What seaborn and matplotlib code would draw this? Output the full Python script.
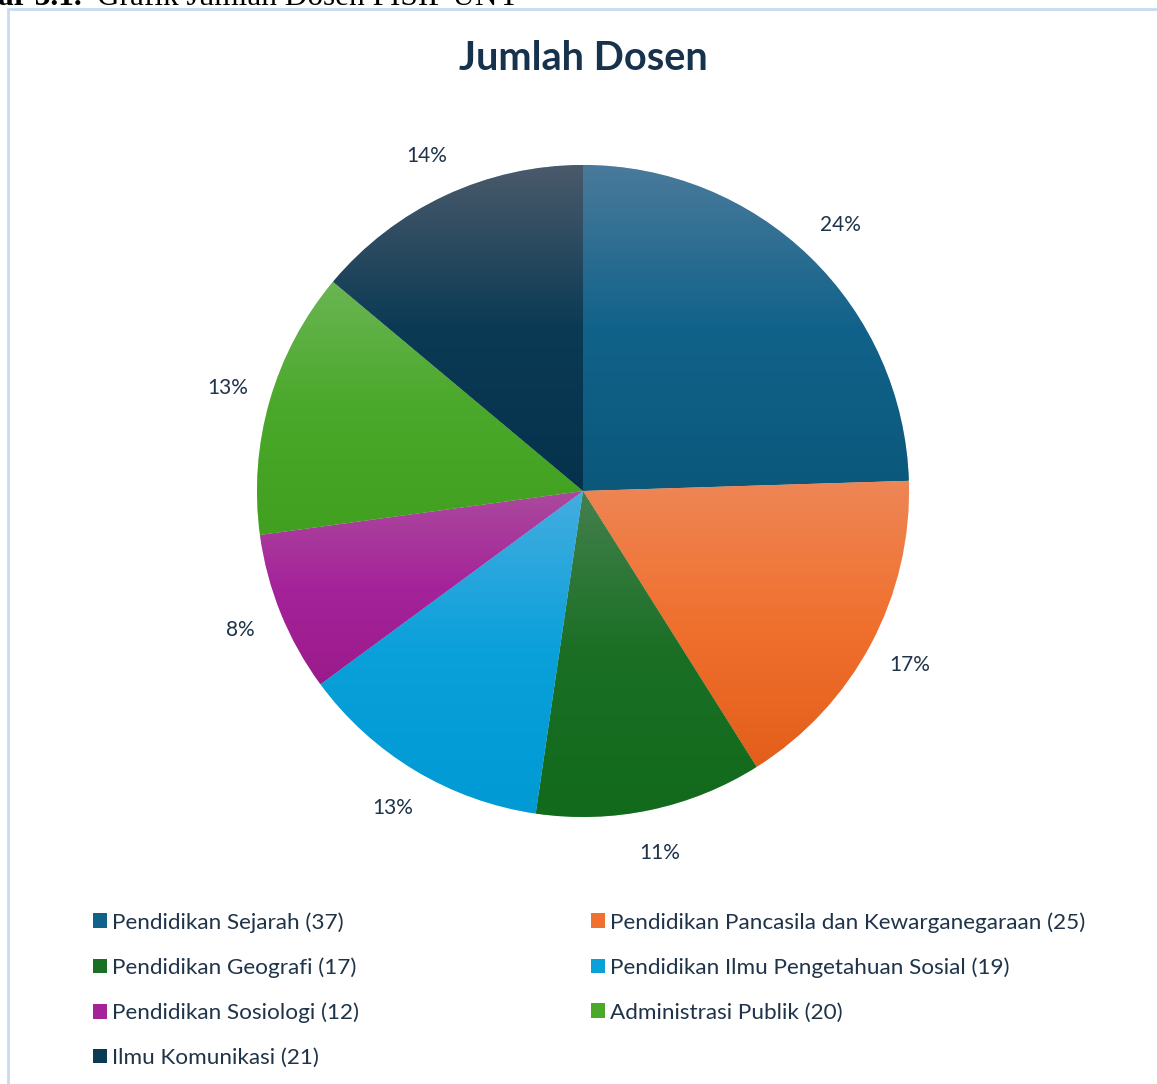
import numpy as np
import matplotlib.pyplot as plt
import seaborn as sns
from matplotlib.colors import LinearSegmentedColormap
from matplotlib.patches import Rectangle

sns.set_theme(style="white")
plt.rcParams['font.family'] = ['Lato', 'DejaVu Sans']

# data
prodi = ['Pendidikan Sejarah', 'Pendidikan Pancasila dan Kewarganegaraan',
         'Pendidikan Geografi', 'Pendidikan Ilmu Pengetahuan Sosial',
         'Pendidikan Sosiologi', 'Administrasi Publik', 'Ilmu Komunikasi']
jumlah = [37, 25, 17, 19, 12, 20, 21]
# percent labels as printed on the chart
persen = ['24%', '17%', '11%', '13%', '8%', '13%', '14%']

# gradient stops per slice: top, middle, bottom
top_col = ['#4a7a9b', '#ee8656', '#44804e', '#44ade0', '#ab4a9d', '#6ab553', '#4a5a6b']
mid_col = ['#11628a', '#f0702e', '#1a6f24', '#0aa0da', '#a5239a', '#4aa82a', '#0b3a55']
bot_col = ['#0b587b', '#e35e1a', '#126a1c', '#009ad4', '#9b1a8b', '#42a020', '#05324b']

text_col = '#1f3349'
W, H = 1157, 1084
fig = plt.figure(figsize=(W / 100, H / 100), dpi=100)

# chart frame
fig.patches.append(Rectangle((8 / W, -0.1), 1.2, (H - 9) / H + 0.1, transform=fig.transFigure,
                             fill=False, edgecolor='#c6daf0', linewidth=2))

# document caption, cut off at the top
fig.text(-2 / W, 1 - 5 / H, 'ar 3.1.', family='Liberation Serif', weight='bold',
         fontsize=22.5, color='black', va='baseline')
fig.text(97 / W, 1 - 5 / H, 'Grafik Jumlah Dosen FISIP UNY', family='Liberation Serif',
         fontsize=22.5, color='black', va='baseline')

fig.text(583 / W, 1 - 59 / H, 'Jumlah Dosen', ha='center', va='center',
         fontsize=28.5, weight='bold', color='#17324d')

cx, cy, R = 583, 491, 326
half = 400
ax = fig.add_axes([(cx - half) / W, (H - cy - half) / H, 2 * half / W, 2 * half / H])
lim = half / R
lab_iter = iter(persen)
wedges, texts, autotexts = ax.pie(jumlah, colors=mid_col, startangle=90, counterclock=False,
                                  autopct=lambda p: next(lab_iter), pctdistance=1.135,
                                  wedgeprops=dict(edgecolor='white', linewidth=0.4),
                                  textprops=dict(color=text_col, fontsize=15))
ax.set_aspect('equal')
ax.axis('off')

grad = np.linspace(0, 1, 256).reshape(-1, 1)
for w, c0, c1, c2 in zip(wedges, top_col, mid_col, bot_col):
    ext = w.get_path().get_extents()
    cmap = LinearSegmentedColormap.from_list('g', [c0, c1, c2])
    im = ax.imshow(grad, cmap=cmap, aspect='auto', origin='upper',
                   extent=[ext.x0, ext.x1, ext.y0, ext.y1], zorder=w.get_zorder())
    im.set_clip_path(w)
ax.set_xlim(-lim, lim)
ax.set_ylim(-lim, lim)

# legend in two columns
handles = [Rectangle((0, 0), 1, 1, facecolor=c, edgecolor='none') for c in mid_col]
labels = [f'{p} ({n})' for p, n in zip(prodi, jumlah)]
kw = dict(frameon=False, fontsize=16.2, labelcolor=text_col, handlelength=0.62,
          handleheight=0.62, handletextpad=0.22, labelspacing=1.1, borderpad=0,
          borderaxespad=0, loc='upper left')
left_idx = [0, 2, 4, 6]
right_idx = [1, 3, 5]
leg1 = fig.legend([handles[i] for i in left_idx], [labels[i] for i in left_idx],
                  bbox_to_anchor=(93 / W, 1 - 912 / H), **kw)
leg2 = fig.legend([handles[i] for i in right_idx], [labels[i] for i in right_idx],
                  bbox_to_anchor=(591 / W, 1 - 912 / H), **kw)

fig.savefig('out.png', dpi=100)
